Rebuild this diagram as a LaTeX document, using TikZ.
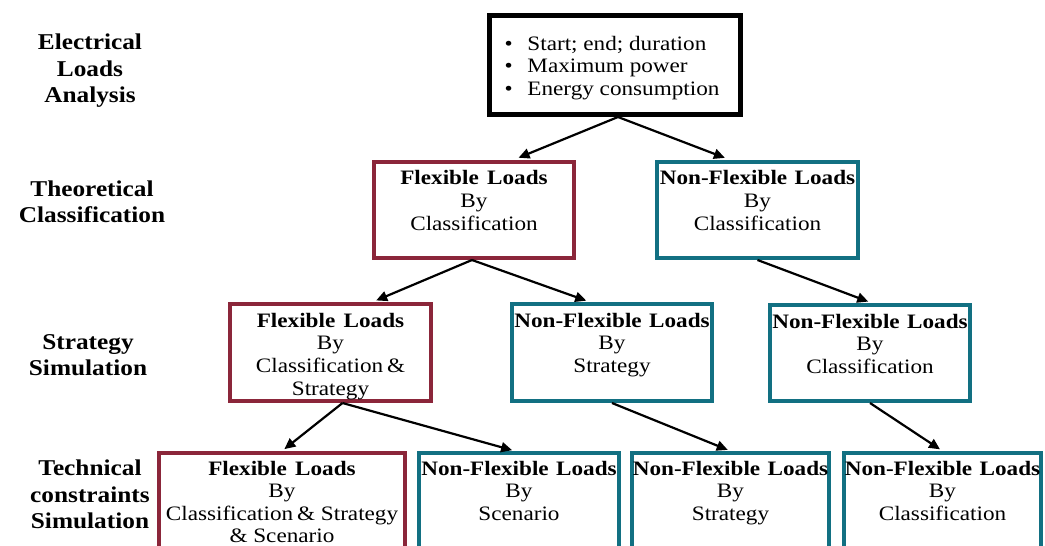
\documentclass[tikz,border=0pt]{standalone}
\usepackage{fontspec}
\setmainfont{Liberation Serif}
\usepackage{graphicx}
\usetikzlibrary{arrows.meta}
\definecolor{fred}{RGB}{139,38,58}
\definecolor{fteal}{RGB}{18,112,130}
% scaled top-aligned box text: #1 width, #2 height, #3 top space, #4 text
\newcommand{\bxt}[4]{\scalebox{1.13}[1]{\parbox[t][#2][t]{\dimexpr #1*100/113\relax}{\centering\vspace{#3}#4}}}
\newcommand{\bul}{\hspace*{13.3pt}\makebox[20.3pt][l]{\textbullet}}
\newcommand{\hd}[1]{\textbf{#1}}
\newcommand{\FL}{\hd{Flexible\hspace{0.36em}Loads}}
\newcommand{\NFL}{\hd{Non-Flexible\hspace{0.32em}Loads}}
\tikzset{
  boxbase/.style={inner sep=0pt, anchor=north west, font=\fontsize{20.5}{22.7}\selectfont},
  flexbox/.style={boxbase, draw=fred, line width=4pt},
  nflexbox/.style={boxbase, draw=fteal, line width=4pt},
  topbox/.style={boxbase, draw=black, line width=5pt},
  lvl/.style={inner sep=0pt, font=\bfseries\fontsize{22.6}{26.5}\selectfont},
  arr/.style={-{Triangle[length=11pt,width=10pt]}, line width=2.2pt, shorten >=4pt}
}
\begin{document}
\begin{tikzpicture}[x=1pt,y=-1pt]
\useasboundingbox (0,0) rectangle (1045,546);
\clip (0,0) rectangle (1045,546);
% level labels
\node[lvl] (l1) at (90,71) {\scalebox{1.12}[1]{\begin{tabular}{@{}c@{}}Electrical\\Loads\\Analysis\end{tabular}}};
\node[lvl] (l2) at (92,204) {\scalebox{1.12}[1]{\begin{tabular}{@{}c@{}}Theoretical\\Classification\end{tabular}}};
\node[lvl] (l3) at (88,357) {\scalebox{1.12}[1]{\begin{tabular}{@{}c@{}}Strategy\\Simulation\end{tabular}}};
\node[lvl] (l4) at (90,497) {\scalebox{1.12}[1]{\begin{tabular}{@{}c@{}}Technical\\constraints\\Simulation\end{tabular}}};
% top box
\node[topbox] (top) at (487,13) {\scalebox{1.13}[1]{\parbox[t][99pt][t]{\dimexpr 251pt*100/113\relax}{\raggedright\vspace{20.4pt}\bul Start; end; duration\\\bul Maximum power\\\bul Energy consumption}}};
% row 2
\node[flexbox] (flex2) at (372,160) {\bxt{200pt}{96pt}{8.5pt}{\FL\\By\\Classification}};
\node[nflexbox] (nflex2) at (655,160) {\bxt{201pt}{96pt}{8.5pt}{\NFL\\By\\Classification}};
% row 3
\node[flexbox] (flex3) at (228,302) {\bxt{201pt}{97pt}{9pt}{\FL\\By\\Classification\,\&\\Strategy}};
\node[nflexbox] (nflex3) at (510,302) {\bxt{200pt}{97pt}{9pt}{\NFL\\By\\Strategy}};
\node[nflexbox] (nflex3r) at (768,303) {\bxt{200pt}{96pt}{9pt}{\NFL\\By\\Classification}};
% row 4
\node[flexbox] (flex4) at (157,451) {\bxt{246pt}{120pt}{8pt}{\FL\\By\\Classification\,\& Strategy\\[-1pt]\& Scenario}};
\node[nflexbox] (nflex4a) at (417,451) {\bxt{200pt}{120pt}{8pt}{\NFL\\By\\Scenario}};
\node[nflexbox] (nflex4b) at (630,451) {\bxt{197pt}{120pt}{8pt}{\NFL\\By\\Strategy}};
\node[nflexbox] (nflex4c) at (842,451) {\bxt{197pt}{120pt}{8pt}{\NFL\\By\\Classification}};
% connectors
\draw[arr, shorten >=6pt] ([xshift=3pt]top.south) -- ([xshift=39pt]flex2.north);
\draw[arr, shorten >=6pt] ([xshift=3pt]top.south) -- ([xshift=-27pt]nflex2.north);
\draw[arr] ([xshift=-2pt]flex2.south) -- ([xshift=42pt]flex3.north);
\draw[arr] ([xshift=-2pt]flex2.south) -- ([xshift=-22pt]nflex3.north);
\draw[arr] (nflex2.south) -- ([xshift=2pt]nflex3r.north);
\draw[arr, shorten >=3pt] ([xshift=12pt]flex3.south) -- (flex4.north);
\draw[arr, shorten >=3pt] ([xshift=12pt]flex3.south) -- ([xshift=-4pt]nflex4a.north);
\draw[arr, shorten >=3pt] (nflex3.south) -- (nflex4b.north);
\draw[arr, shorten >=3pt] (nflex3r.south) -- (nflex4c.north);
\end{tikzpicture}
\end{document}
